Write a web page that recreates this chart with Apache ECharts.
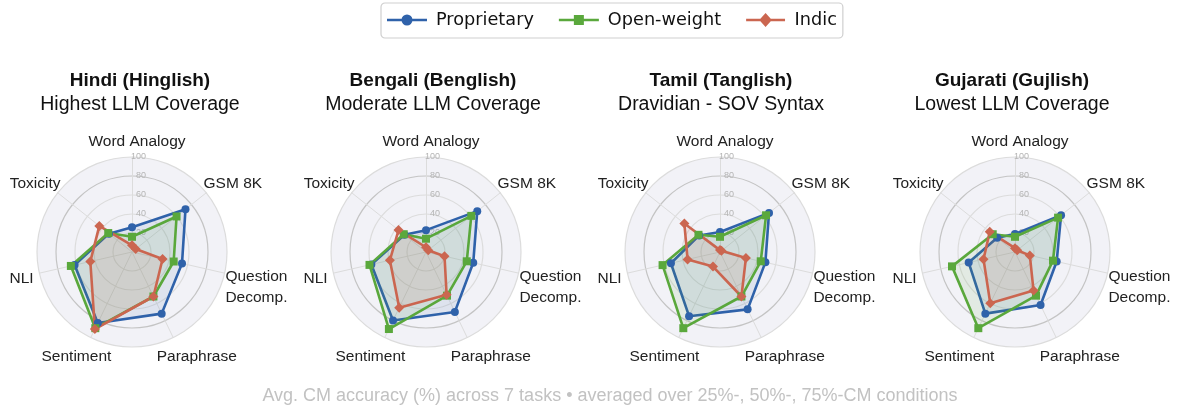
<!DOCTYPE html>
<html>
<head>
<meta charset="utf-8">
<script src="https://cdn.jsdelivr.net/npm/echarts@6/dist/echarts.min.js"></script>
<style>
  html, body { margin: 0; padding: 0; background: #fff; }
  #chart { width: 1177px; height: 410px; }
</style>
</head>
<body>
<div id="chart"></div>
<script>
// tasks, clockwise from the top
const tasks = ['Word Analogy', 'GSM 8K', 'Question\nDecomp.', 'Paraphrase', 'Sentiment', 'NLI', 'Toxicity']
const groups = ['Proprietary', 'Open-weight', 'Indic']
const languages = ['Hindi (Hinglish)', 'Bengali (Benglish)', 'Tamil (Tanglish)', 'Gujarati (Gujlish)']
const subtitles = ['Highest LLM Coverage', 'Moderate LLM Coverage', 'Dravidian - SOV Syntax', 'Lowest LLM Coverage']
const ticks = [0, 20, 40, 60, 80, 100]

// accuracy (%) per task, same order as tasks
const hindiProprietary = [26, 72, 54, 72, 83, 62, 31]
const hindiOpen = [16, 60, 45, 52, 89, 66, 32]
const hindiIndic = [7, 5, 33, 52, 90, 45, 44]

const bengaliProprietary = [23, 69, 51, 70, 80, 59, 29]
const bengaliOpen = [14, 61, 44, 51, 90, 61, 30]
const bengaliIndic = [5, 3, 20, 50, 65, 39, 37]

const tamilProprietary = [21, 66, 49, 67, 75, 53, 28]
const tamilOpen = [16, 62, 44, 52, 89, 62, 29]
const tamilIndic = [2, 2, 28, 52, 17, 35, 48]

const gujaratiProprietary = [19, 62, 45, 62, 72, 50, 24]
const gujaratiOpen = [16, 58, 41, 51, 89, 68, 30]
const gujaratiIndic = [4, 3, 16, 45, 60, 34, 34]

const footer = 'Avg. CM accuracy (%) across 7 tasks \u2022 averaged over 25%-, 50%-, 75%-CM conditions'

const values = [
    [hindiProprietary, hindiOpen, hindiIndic],
    [bengaliProprietary, bengaliOpen, bengaliIndic],
    [tamilProprietary, tamilOpen, tamilIndic],
    [gujaratiProprietary, gujaratiOpen, gujaratiIndic]
]

const colors = ['#2f62aa', '#5aa83c', '#cb6650']
const symbols = ['circle', 'rect', 'diamond']
// legend icons: a line with the marker on it (same winding so the marker stays filled)
const icons = [
    'path://M0,6h40v2.4h-40z M14.5,7.2a5.5,5.5 0 1,1 11,0a5.5,5.5 0 1,1 -11,0z',
    'path://M0,6h40v2.4h-40z M15,2.2h10v10h-10z',
    'path://M0,6h40v2.4h-40z M20,0l6.5,7.2l-6.5,7.2l-6.5,-7.2z'
]

const centersX = [132, 426, 720, 1015]
const titlesX = [140, 433, 721, 1012]
const centerY = 252
const radius = 95

// nudges for the axis names so they sit like the matplotlib labels [dx, dy]
const nameShift = [[5, 1], [-9, -4], [-7, 12], [-20, 12], [24, 12], [2, 4], [9, -4]]

// echarts draws radar indicators counter-clockwise, so walk the tasks backwards
const order = [0, 6, 5, 4, 3, 2, 1]

const rich = {}
nameShift.forEach(([dx, dy], k) => {
    rich['n' + k] = {
        color: '#222',
        fontSize: 15.5,
        fontFamily: 'Liberation Sans',
        lineHeight: k === 2 ? 21 : undefined,
        padding: [dy, -dx, -dy, dx]
    }
})

const radars = centersX.map((cx) => ({
    center: [cx, centerY],
    radius: radius,
    startAngle: 90,
    shape: 'circle',
    splitNumber: 5,
    indicator: order.map((k, j) => ({
        name: tasks[k],
        min: ticks[0],
        max: ticks[ticks.length - 1],
        axisLabel: j === 0 ? { show: true } : undefined
    })),
    axisName: {
        color: '#222',
        fontSize: 15.5,
        fontFamily: 'Liberation Sans',
        formatter: (name) => {
            const k = tasks.indexOf(name)
            return name.split('\n').map((s) => '{n' + k + '|' + s + '}').join('\n')
        },
        rich: rich
    },
    nameGap: 8,
    axisLine: { lineStyle: { color: '#dcdcdc', width: 1 } },
    splitLine: { lineStyle: { color: ['#dcdcdc', '#dcdcdc', '#dcdcdc', '#dcdcdc', '#c4c4c4'], width: 1.2 } },
    splitArea: { areaStyle: { color: ['#f2f2f7'] } },
    axisTick: { show: false },
    axisLabel: {
        show: false,
        color: '#b5b5b5',
        fontSize: 9,
        fontFamily: 'Liberation Sans',
        showMinLabel: false,
        margin: -14
    }
}))

const series = []
values.forEach((langValues, r) => {
    langValues.forEach((arr, g) => {
        series.push({
            type: 'radar',
            name: groups[g],
            radarIndex: r,
            symbol: symbols[g],
            symbolSize: g === 2 ? 10 : 8,
            lineStyle: { color: colors[g], width: 2.6 },
            itemStyle: { color: colors[g] },
            areaStyle: { color: colors[g], opacity: 0.1 },
            data: [{ value: order.map((k) => arr[k]), name: groups[g] }]
        })
    })
})

const titles = languages.map((lang, i) => ({
    text: lang,
    subtext: subtitles[i],
    left: titlesX[i],
    top: 71,
    textAlign: 'center',
    itemGap: 5,
    padding: 0,
    textStyle: { fontSize: 19, fontWeight: 'bold', color: '#111', fontFamily: 'Liberation Sans' },
    subtextStyle: { fontSize: 19.5, color: '#111', fontFamily: 'Liberation Sans' }
}))
titles.push({
    text: footer,
    left: 610,
    top: 387,
    textAlign: 'center',
    padding: 0,
    textStyle: { fontSize: 18, fontWeight: 'normal', color: '#c2c2c2', fontFamily: 'Liberation Sans' }
})

const option = {
    animation: false,
    backgroundColor: '#fff',
    title: titles,
    legend: {
        top: 3,
        left: 381,
        data: groups.map((g, i) => ({ name: g, icon: icons[i], itemStyle: { color: colors[i] } })),
        itemWidth: 40,
        itemHeight: 14,
        itemGap: 25,
        padding: [8, 6, 9, 6],
        borderColor: '#cfcfcf',
        borderWidth: 1.2,
        borderRadius: 4,
        textStyle: { fontSize: 17.7, color: '#111', fontFamily: 'DejaVu Sans', padding: [0, 0, 0, 4] }
    },
    radar: radars,
    series: series
}

const chart = echarts.init(document.getElementById('chart'), null, { renderer: 'canvas' })
chart.setOption(option)
</script>
</body>
</html>
